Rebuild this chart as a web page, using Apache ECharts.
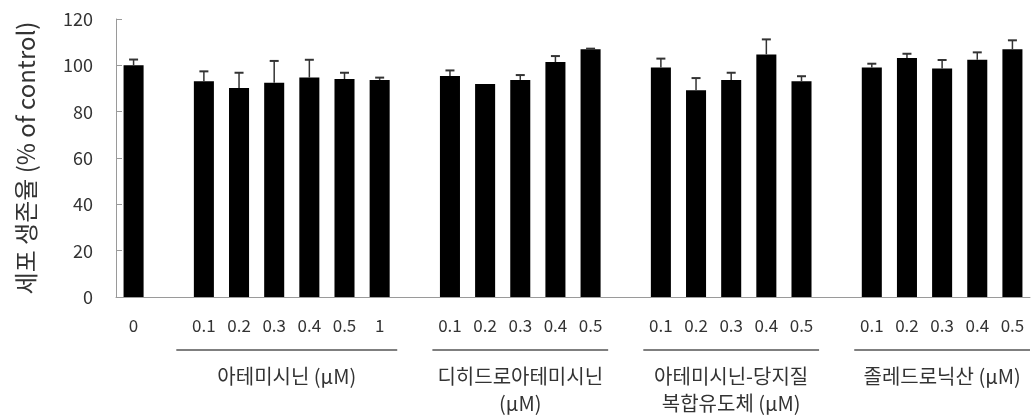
<!DOCTYPE html>
<html>
<head>
<meta charset="utf-8">
<script src="https://cdn.jsdelivr.net/npm/echarts@6/dist/echarts.min.js"></script>
<style>
    html, body { margin: 0; padding: 0; background: #fff; }
    #chart { width: 1035px; height: 418px; }
</style>
</head>
<body>
<div id="chart"></div>
<script>
    // 카테고리 (빈 문자열 = 그룹 사이 간격)
    const categories = ['0', '',
        '0.1', '0.2', '0.3', '0.4', '0.5', '1', '',
        '0.1', '0.2', '0.3', '0.4', '0.5', '',
        '0.1', '0.2', '0.3', '0.4', '0.5', '',
        '0.1', '0.2', '0.3', '0.4', '0.5']
    const values = [100, null,
        93.1, 90.2, 92.5, 94.7, 94.1, 93.7, null,
        95.4, 91.9, 93.7, 101.4, 106.9, null,
        99.1, 89.2, 93.7, 104.7, 93.1, null,
        99.1, 103.2, 98.6, 102.4, 106.9]
    const errors = [2.5, null,
        4.3, 6.6, 9.4, 7.7, 2.7, 1.0, null,
        2.4, 0, 2.1, 2.6, 0.3, null,
        3.8, 5.3, 3.1, 6.5, 2.2, null,
        1.6, 1.8, 3.7, 3.2, 3.9]
    const yTicks = [0, 20, 40, 60, 80, 100, 120]
    // 그룹: [첫 인덱스, 마지막 인덱스, 라벨]
    const groups = [
        [2, 7, '아테미시닌 (μM)'],
        [9, 13, '디히드로아테미시닌\n(μM)'],
        [15, 19, '아테미시닌-당지질\n복합유도체 (μM)'],
        [21, 25, '졸레드로닉산 (μM)']
    ]

    const chartDom = document.getElementById('chart')
    const myChart = echarts.init(chartDom)
    const axisColor = '#9a9a9a'
    const textColor = '#333'
    const cjk = '"Noto Sans CJK KR", "Noto Sans", sans-serif'

    let option = {
        animation: false,
        grid: {
            left: 116,
            right: 5,
            top: 19,
            bottom: 121
        },
        xAxis: {
            type: 'category',
            data: categories,
            axisLine: { lineStyle: { color: axisColor } },
            axisTick: { inside: true, length: 5, lineStyle: { color: axisColor } },
            axisLabel: {
                color: textColor,
                fontSize: 17,
                fontFamily: cjk,
                margin: 20,
                interval: 0
            }
        },
        yAxis: {
            type: 'value',
            min: 0,
            max: yTicks[yTicks.length - 1],
            interval: 20,
            name: '세포 생존율 (% of control)',
            nameLocation: 'middle',
            nameGap: 78,
            nameTextStyle: { color: textColor, fontSize: 24, fontFamily: cjk },
            axisLine: { show: true, lineStyle: { color: axisColor } },
            axisTick: { show: true, inside: true, length: 6, lineStyle: { color: axisColor } },
            axisLabel: {
                color: textColor,
                fontSize: 18,
                fontFamily: cjk,
                margin: 23
            },
            splitLine: { show: false }
        },
        series: [
            {
                type: 'bar',
                data: values,
                barWidth: '57%',
                itemStyle: { color: '#000' },
                z: 2
            },
            {
                type: 'custom',
                z: 3,
                data: values.map((v, i) => [i, v, errors[i]]),
                renderItem: function (params, api) {
                    const v = api.value(1)
                    const e = api.value(2)
                    if (v == null || isNaN(v) || !e) return
                    const base = api.coord([api.value(0), v])
                    const top = api.coord([api.value(0), v + e])
                    const half = 4.5
                    return {
                        type: 'group',
                        children: [
                            {
                                type: 'line',
                                shape: { x1: base[0], y1: base[1], x2: top[0], y2: top[1] },
                                style: { stroke: '#333', lineWidth: 1.5 }
                            },
                            {
                                type: 'line',
                                shape: { x1: top[0] - half, y1: top[1], x2: top[0] + half, y2: top[1] },
                                style: { stroke: '#333', lineWidth: 2 }
                            }
                        ]
                    }
                }
            }
        ]
    }
    myChart.setOption(option)

    // 그룹 밑줄과 라벨
    const slot = myChart.convertToPixel({ xAxisIndex: 0 }, 1) - myChart.convertToPixel({ xAxisIndex: 0 }, 0)
    const graphics = []
    groups.forEach(function (g, idx) {
        let x1 = myChart.convertToPixel({ xAxisIndex: 0 }, g[0]) - slot / 2
        const x2 = myChart.convertToPixel({ xAxisIndex: 0 }, g[1]) + slot / 2
        if (idx === 0) x1 -= 10
        graphics.push({
            type: 'line',
            shape: { x1: x1, y1: 350, x2: x2, y2: 350 },
            style: { stroke: '#555', lineWidth: 1.5 }
        })
        graphics.push({
            type: 'text',
            x: (x1 + x2) / 2,
            y: 363,
            style: {
                text: g[2],
                fill: textColor,
                font: '20px ' + cjk,
                align: 'center',
                verticalAlign: 'top',
                lineHeight: 27
            }
        })
    })
    myChart.setOption({ graphic: graphics })
</script>
</body>
</html>
